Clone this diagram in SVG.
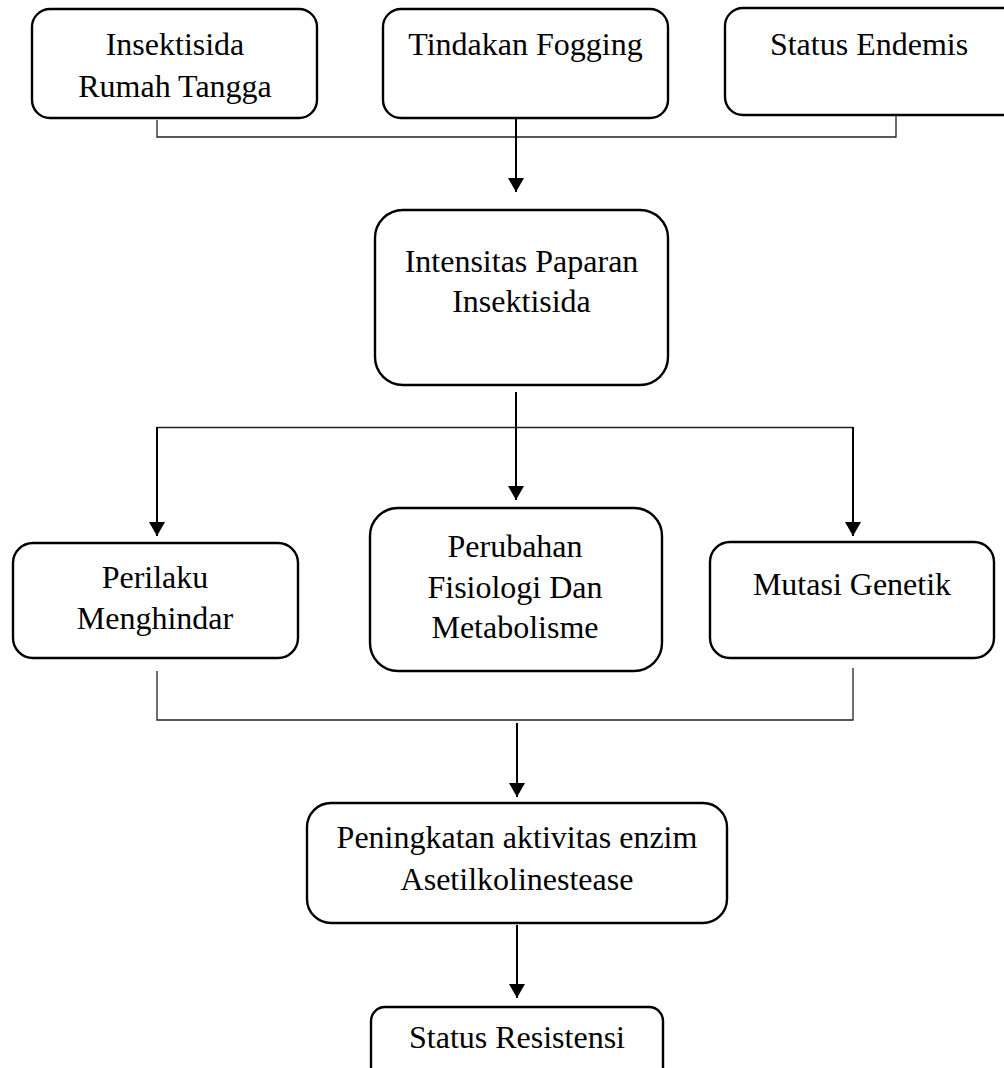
<svg xmlns="http://www.w3.org/2000/svg" width="1004" height="1068" viewBox="0 0 1004 1068">
<style>
.box{fill:#fff;stroke:#000;stroke-width:2.4}
.t{font-family:"Liberation Serif","Times New Roman",serif;font-size:32px;fill:#000;text-anchor:middle}
.arr{stroke:#000;stroke-width:2;fill:none}
.thin{stroke:#222;stroke-width:1.3;fill:none}
</style>
<defs>
<marker id="ah" markerUnits="userSpaceOnUse" viewBox="0 0 14 16" refX="14" refY="8" markerWidth="14" markerHeight="16" orient="auto">
<path d="M0,0 L14,8 L0,16 z" fill="#000"/>
</marker>
</defs>
<rect width="1004" height="1068" fill="#fff"/>
<g id="connectors">
<path class="thin" d="M157,120 V137 H896 V115"/>
<path class="arr" d="M516,118 V192" marker-end="url(#ah)"/>
<path class="arr" d="M516,392 V500" marker-end="url(#ah)"/>
<path class="thin" d="M157,427.5 H853"/>
<path class="arr" d="M157,427 V536" marker-end="url(#ah)"/>
<path class="arr" d="M853,427 V536" marker-end="url(#ah)"/>
<path class="thin" d="M157,671 V720 H853 V668"/>
<path class="arr" d="M517,723 V797" marker-end="url(#ah)"/>
<path class="arr" d="M517,925 V998" marker-end="url(#ah)"/>
</g>
<g id="n1"><rect class="box" x="32" y="9" width="285" height="109" rx="18"/>
<text class="t" x="175" y="55">Insektisida</text><text class="t" x="175" y="97">Rumah Tangga</text></g>
<g id="n2"><rect class="box" x="383" y="9" width="285" height="109" rx="18"/>
<text class="t" x="525.5" y="55">Tindakan Fogging</text></g>
<g id="n3"><rect class="box" x="725" y="8" width="300" height="107" rx="18"/>
<text class="t" x="869" y="55">Status Endemis</text></g>
<g id="n4"><rect class="box" x="375" y="210" width="293" height="175" rx="28"/>
<text class="t" x="521.5" y="272">Intensitas Paparan</text><text class="t" x="521.5" y="312">Insektisida</text></g>
<g id="n5"><rect class="box" x="13" y="543" width="285" height="115" rx="20"/>
<text class="t" x="155" y="588">Perilaku</text><text class="t" x="155" y="629">Menghindar</text></g>
<g id="n6"><rect class="box" x="370" y="508" width="292" height="163" rx="28"/>
<text class="t" x="515" y="557">Perubahan</text><text class="t" x="515" y="598">Fisiologi Dan</text><text class="t" x="515" y="638">Metabolisme</text></g>
<g id="n7"><rect class="box" x="710" y="542" width="284" height="116" rx="20"/>
<text class="t" x="852" y="595">Mutasi Genetik</text></g>
<g id="n8"><rect class="box" x="307" y="803" width="420" height="120" rx="24"/>
<text class="t" x="517" y="848">Peningkatan aktivitas enzim</text><text class="t" x="517" y="890">Asetilkolinestease</text></g>
<g id="n9"><rect class="box" x="371" y="1007" width="292" height="80" rx="14"/>
<text class="t" x="517" y="1048">Status Resistensi</text></g>
</svg>
